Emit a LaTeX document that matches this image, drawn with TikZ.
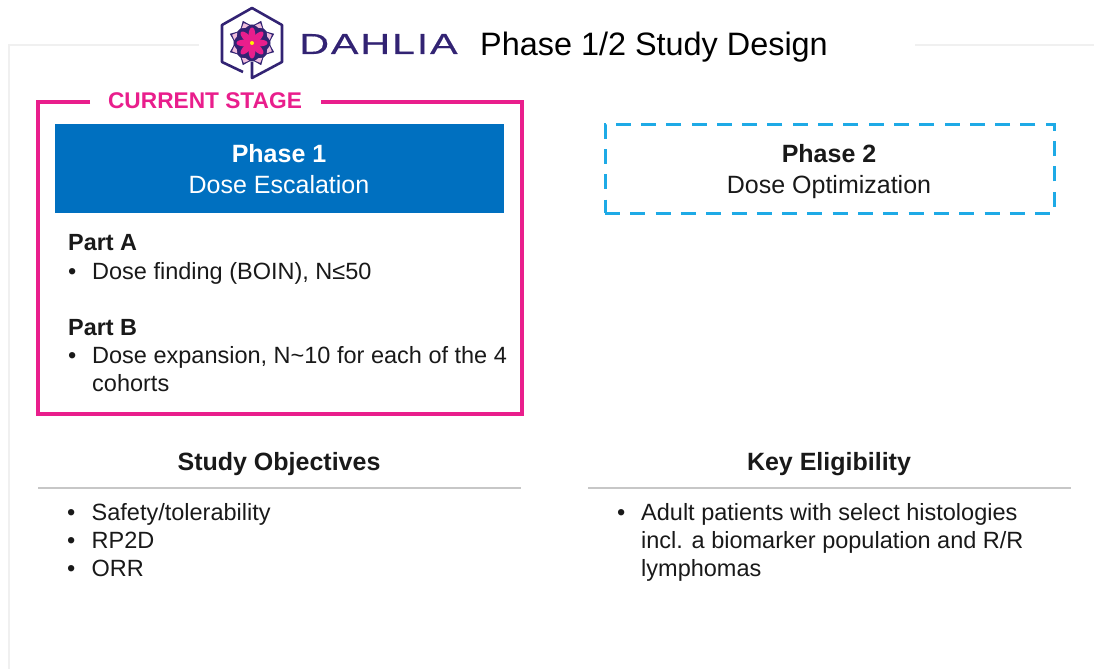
\documentclass[tikz,border=0pt]{standalone}
\usepackage{fontspec}
\setmainfont{Liberation Sans}
\definecolor{stagepink}{RGB}{233,30,140}
\definecolor{phaseblue}{RGB}{0,112,192}
\definecolor{dashblue}{RGB}{30,170,230}
\definecolor{logopurple}{RGB}{50,35,115}
\definecolor{petalpink}{RGB}{240,190,220}
\definecolor{textgray}{RGB}{25,25,25}
\tikzset{
	bodytext/.style={inner sep=0pt, anchor=base west, text=textgray, font=\fontsize{23.5}{23.5}\selectfont},
	parttext/.style={inner sep=0pt, anchor=base west, text=textgray, font=\fontsize{23.4}{23.4}\selectfont\bfseries},
	headtext/.style={inner sep=0pt, anchor=base, text=textgray, font=\fontsize{25}{25}\selectfont\bfseries},
	subtext/.style={inner sep=0pt, anchor=base, text=textgray, font=\fontsize{25}{25}\selectfont},
	ruleline/.style={draw=black!22, line width=1.3pt},
	pageline/.style={draw=black!6, line width=1.5pt}
}
\begin{document}
\begin{tikzpicture}[x=1pt, y=-1pt]
	\useasboundingbox (0,0) rectangle (1094,669);
	
	% page outline
	\coordinate (p0) at (9,669);
	\coordinate (p1) at (9,45);
	\coordinate (p2) at (199,45);
	\coordinate (p3) at (915,45);
	\coordinate (p4) at (1094,45);
	\draw[pageline] (p0) -- (p1) -- (p2);
	\draw[pageline] (p3) -- (p4);
	
	% logo
	\coordinate (hex0) at (243,72);
	\coordinate (hex1) at (222,62);
	\coordinate (hex2) at (222,25);
	\coordinate (hex3) at (252,8);
	\coordinate (hex4) at (282,25);
	\coordinate (hex5) at (282,62);
	\coordinate (hex6) at (252,78);
	\coordinate (hex7) at (252,62);
	\draw[logopurple, line width=2.6pt, line join=round] (hex0) -- (hex1) -- (hex2) -- (hex3) -- (hex4) -- (hex5) -- (hex6) -- (hex7);
	\fill[logopurple] (252,43) circle (18.5);
	\foreach \a in {0,45,...,315} {
		\fill[logopurple] ([shift={(\a+22.5:24)}]252,43) -- ([shift={(\a:17)}]252,43) -- ([shift={(\a+45:17)}]252,43) -- cycle;
		\fill[petalpink] ([shift={(\a+22.5:21.5)}]252,43) -- ([shift={(\a+10:18)}]252,43) -- ([shift={(\a+22.5:16.5)}]252,43) -- ([shift={(\a+35:18)}]252,43) -- cycle;
		\fill[stagepink, rotate around={\a:(252,43)}] (260,43) ellipse (7.5 and 3.4);
	}
	\fill[yellow] (252,43) circle (2);
	\node[inner sep=0pt, anchor=base west, text=logopurple, font=\fontsize{29}{29}\selectfont] (dahlia) at (299,54) {\addfontfeature{LetterSpace=6,FakeStretch=1.43,FakeBold=0.4}DAHLIA};
	\node[inner sep=0pt, anchor=base west, text=black, font=\fontsize{32.4}{32.4}\selectfont] (title) at (480,56) {Phase 1/2 Study Design};
	
	% current stage
	\node[inner sep=0pt, anchor=base, text=stagepink, font=\fontsize{22.7}{22.7}\selectfont\bfseries] (stage) at (205,108) {CURRENT STAGE};
	\coordinate (f0) at (90,102);
	\coordinate (f1) at (38,102);
	\coordinate (f2) at (38,414);
	\coordinate (f3) at (522,414);
	\coordinate (f4) at (522,102);
	\coordinate (f5) at (321,102);
	\draw[stagepink, line width=3.2pt, line join=miter] (f0) -- (f1) -- (f2) -- (f3) -- (f4) -- (f5);
	
	% phases
	\node[draw=none, fill=phaseblue, minimum width=449pt, minimum height=89pt, inner sep=0pt] (phase1) at (279.5,168.5) {};
	\node[headtext, text=white] (p1a) at (279,162) {Phase 1};
	\node[subtext, text=white] (p1b) at (279,193) {Dose Escalation};
	\node[draw=dashblue, line width=3pt, dash pattern=on 15pt off 10.3pt, minimum width=449pt, minimum height=89pt, inner sep=0pt] (phase2) at (829.5,168.5) {};
	\node[headtext] (p2a) at (829,162) {Phase 2};
	\node[subtext] (p2b) at (829,193) {Dose Optimization};
	
	% parts
	\node[parttext] (parta) at (68,250.5) {Part A};
	\node[bodytext] (ba1) at (68,279) {•};
	\node[bodytext] (ta1) at (92,279) {Dose finding (BOIN), N≤50};
	\node[parttext] (partb) at (68,335) {Part B};
	\node[bodytext] (bb1) at (68,363) {•};
	\node[bodytext] (tb1) at (92,363) {Dose expansion, N\textasciitilde10 for each of the 4};
	\node[bodytext] (tb2) at (92,391) {cohorts};
	
	% objectives
	\node[headtext] (obj) at (279,470.5) {Study Objectives};
	\coordinate (o0) at (38,488);
	\coordinate (o1) at (521,488);
	\draw[ruleline] (o0) -- (o1);
	\node[bodytext] (bo1) at (67,520) {•};
	\node[bodytext] (to1) at (91.5,520) {Safety/tolerability};
	\node[bodytext] (bo2) at (67,548) {•};
	\node[bodytext] (to2) at (91.5,548) {RP2D};
	\node[bodytext] (bo3) at (67,576) {•};
	\node[bodytext] (to3) at (91.5,576) {ORR};
	
	% eligibility
	\node[headtext] (key) at (829,470.5) {Key Eligibility};
	\coordinate (k0) at (588,488);
	\coordinate (k1) at (1071,488);
	\draw[ruleline] (k0) -- (k1);
	\node[bodytext] (bk1) at (617,520) {•};
	\node[bodytext] (tk1) at (641,520) {Adult patients with select histologies};
	\node[bodytext] (tk2) at (641,548) {incl. a biomarker population and R/R};
	\node[bodytext] (tk3) at (641,576) {lymphomas};
\end{tikzpicture}
\end{document}
